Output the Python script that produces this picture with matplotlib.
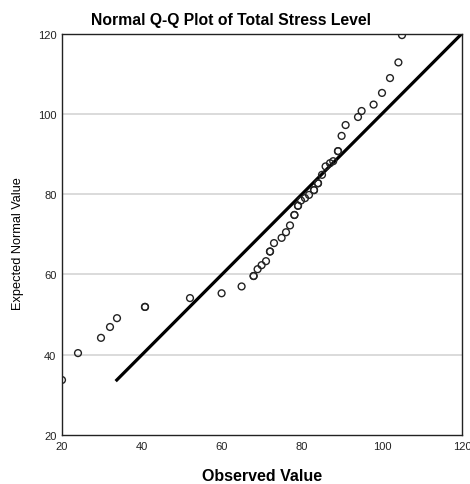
import matplotlib
matplotlib.use("Agg")
import matplotlib.pyplot as plt
import numpy as np

plt.rcParams['font.family'] = ['Liberation Sans', 'DejaVu Sans']

# observed scores and expected normal values (tied scores repeated)
observed = [20, 24, 29.75, 32, 33.75, 40.75, 40.75, 52, 59.9, 64.9, 67.9, 67.9,
            68.9, 69.9, 71, 72, 72, 73, 74.9, 76, 77, 78.1, 78.1, 79, 79,
            79.75, 80.75, 81.75, 83, 83, 84, 84, 85, 85.9, 87, 87.8, 89, 89,
            89.9, 90.9, 94, 94.9, 97.9, 100, 102, 104.1, 105]
expected = [33.7, 40.4, 44.2, 46.9, 49.1, 51.9, 51.9, 54.1, 55.3, 57.0, 59.6, 59.6,
            61.3, 62.3, 63.3, 65.7, 65.7, 67.8, 69.1, 70.5, 72.2, 74.8, 74.8, 77.1, 77.1,
            78.4, 79.0, 79.8, 81.0, 81.0, 82.7, 82.7, 84.8, 86.9, 87.7, 88.2, 90.7, 90.7,
            94.5, 97.2, 99.2, 100.7, 102.3, 105.2, 108.9, 112.8, 119.6]
ref_line = [33.7, 125]
ticks = [20, 40, 60, 80, 100, 120]

fig = plt.figure(figsize=(4.7, 4.85), dpi=100)
ax = fig.add_axes([62 / 470, 49 / 485, 400 / 470, 401.5 / 485])

for t in ticks[1:-1]:
    ax.axhline(t, color='#d4d4d4', lw=1.2, zorder=0)

ax.plot(ref_line, ref_line, color='black', lw=2.3, zorder=2)
ax.scatter(observed, expected, s=24, facecolors='none', edgecolors='#222222',
           linewidths=1.0, zorder=3)

ax.set_xlim(20, 120)
ax.set_ylim(20, 120)
ax.set_xticks(ticks)
ax.set_yticks(ticks)
ax.tick_params(length=0, labelsize=8, pad=4, colors='#222222')
for s in ax.spines.values():
    s.set_color('#222222')
    s.set_linewidth(1.0)

fig.text(231 / 470, 1 - 20 / 485, 'Normal Q-Q Plot of Total Stress Level',
         ha='center', va='center', fontsize=11.3, fontweight='bold')
fig.text(262 / 470, 1 - 477 / 485, 'Observed Value', ha='center', va='center',
         fontsize=11.5, fontweight='bold')
fig.text(18 / 470, 1 - 244 / 485, 'Expected Normal Value', ha='center',
         va='center', rotation=90, fontsize=9.2)

fig.savefig('out.png', dpi=100)
